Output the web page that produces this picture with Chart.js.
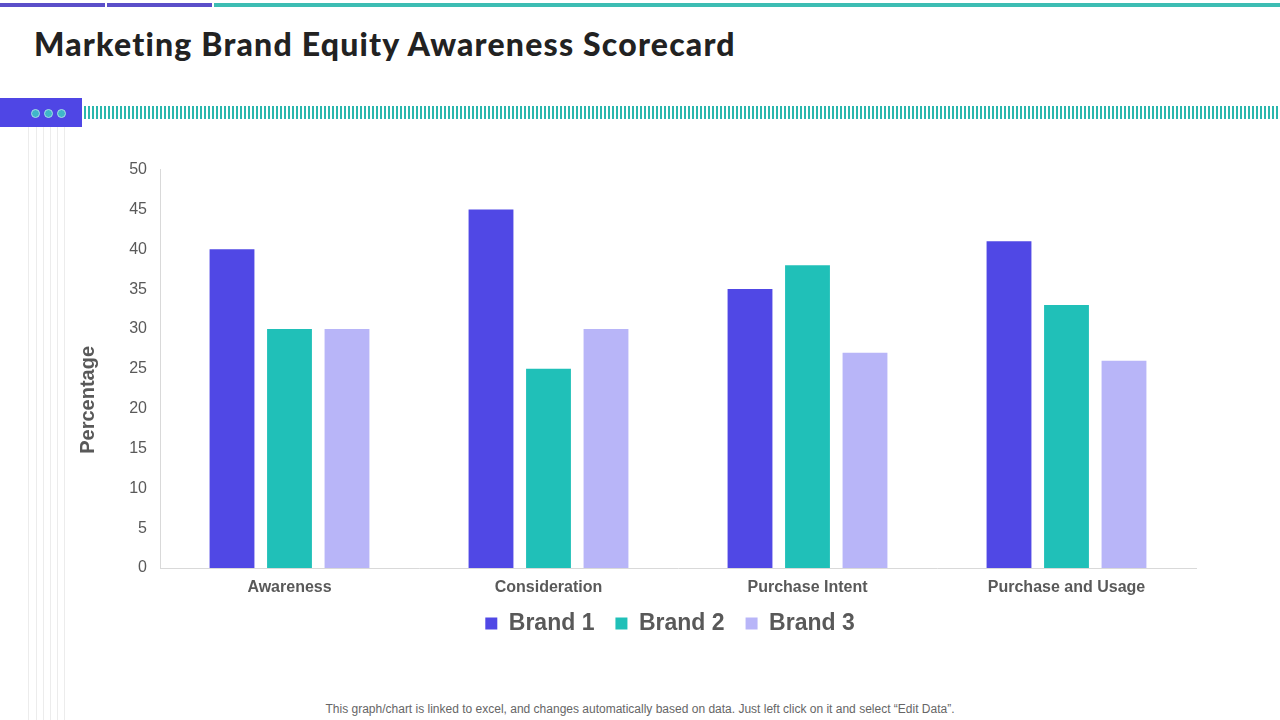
<!DOCTYPE html>
<html>
<head>
<meta charset="utf-8">
<script src="https://cdn.jsdelivr.net/npm/chart.js@4.4.1/dist/chart.umd.min.js"></script>
<style>
  html, body { margin: 0; padding: 0; background: #fff; }
  body { width: 1280px; height: 720px; position: relative; overflow: hidden; font-family: "Liberation Sans", Arial, sans-serif; }
  .bar { position: absolute; top: 3px; height: 4px; }
  h1 { position: absolute; left: 34px; top: 24px; margin: 0; font-family: "Lato", "Inter", sans-serif; font-weight: 900; font-size: 32px; color: #222; letter-spacing: 1.2px; }
  .block { position: absolute; left: 0; top: 98px; width: 82px; height: 29px; background: #4F46E5; }
  .dot { position: absolute; top: 109px; width: 7px; height: 7px; border-radius: 50%; background: #3fb7c9; border: 1px solid #a8dce8; }
  .stripes { position: absolute; left: 84px; top: 106px; width: 1196px; height: 13px;
    background: repeating-linear-gradient(90deg, #2bb7ad 0 2px, #ffffff 2px 4px); }
  .vline { position: absolute; top: 127px; width: 1px; height: 593px; background: #ececec; }
  #wrap { position: absolute; left: 78px; top: 147px; width: 1202px; height: 511px; }
  .note { position: absolute; left: 0; width: 1280px; top: 702px; text-align: center; font-size: 12px; color: #666; }
</style>
</head>
<body>
<div class="bar" style="left:0;width:105px;background:#5b4fc9"></div>
<div class="bar" style="left:107px;width:105px;background:#5b4fc9"></div>
<div class="bar" style="left:214px;width:1066px;background:#3dbdb3"></div>
<h1>Marketing Brand Equity Awareness Scorecard</h1>
<div class="block"></div>
<div class="dot" style="left:31px"></div>
<div class="dot" style="left:44px"></div>
<div class="dot" style="left:57px"></div>
<div class="stripes"></div>
<div class="vline" style="left:28px"></div>
<div class="vline" style="left:36px"></div>
<div class="vline" style="left:43px"></div>
<div class="vline" style="left:50px"></div>
<div class="vline" style="left:57px"></div>
<div class="vline" style="left:64px"></div>
<div id="wrap"><canvas id="chart"></canvas></div>
<div class="note">This graph/chart is linked to excel,  and changes automatically based on data. Just left click on it and select “Edit Data”.</div>
<script>
const categories = ['Awareness', 'Consideration', 'Purchase Intent', 'Purchase and Usage'];
const brand1 = [40, 45, 35, 41];
const brand2 = [30, 25, 38, 33];
const brand3 = [30, 30, 27, 26];
const yTicks = [0, 5, 10, 15, 20, 25, 30, 35, 40, 45, 50];
const yTitle = 'Percentage';

// put the legend under the plot area and a bit closer to the axis
const legendShift = {
    id: 'legendShift',
    afterLayout(chart) {
        const lg = chart.legend;
        const d = (chart.chartArea.left + chart.chartArea.right) / 2 - (lg.left + lg.right) / 2 - 8;
        lg.left += d;
        lg.right += d;
        lg.top -= 13;
        lg.bottom -= 13;
    }
};

// y title sits a bit below the middle in the original
const yTitlePlugin = {
    id: 'yTitlePlugin',
    afterDraw(chart) {
        const a = chart.chartArea;
        const c = chart.ctx;
        c.save();
        c.translate(a.left - 72, a.top + (a.bottom - a.top) * 0.578);
        c.rotate(-Math.PI / 2);
        c.fillStyle = '#595959';
        c.font = 'bold 20px "Liberation Sans"';
        c.textAlign = 'center';
        c.textBaseline = 'middle';
        c.fillText(yTitle, 0, 0);
        c.restore();
    }
};

const ctx = document.getElementById('chart').getContext('2d');
new Chart(ctx, {
    type: 'bar',
    data: {
        labels: categories,
        datasets: [
            { label: 'Brand 1', data: brand1, backgroundColor: '#5048E5' },
            { label: 'Brand 2', data: brand2, backgroundColor: '#20C0B8' },
            { label: 'Brand 3', data: brand3, backgroundColor: '#B8B5F8' }
        ]
    },
    plugins: [legendShift, yTitlePlugin],
    options: {
        responsive: true,
        maintainAspectRatio: false,
        animation: false,
        datasets: { bar: { categoryPercentage: 0.666, barPercentage: 0.78 } },
        layout: { padding: { top: 10, right: 84, left: 0, bottom: 0 } },
        plugins: {
            tooltip: { enabled: false },
            legend: {
                position: 'bottom',
                labels: {
                    color: '#595959',
                    font: { family: 'Liberation Sans', size: 23, weight: 'bold' },
                    boxWidth: 12, boxHeight: 12, padding: 21
                }
            }
        },
        scales: {
            x: {
                grid: { display: false, drawTicks: false },
                border: { color: '#d9d9d9' },
                ticks: { color: '#595959', padding: 10, font: { family: 'Liberation Sans', size: 16, weight: 'bold' } },
                afterFit: s => { s.height = 36; }
            },
            y: {
                min: 0, max: 50,
                afterBuildTicks: s => { s.ticks = yTicks.map(v => ({ value: v })); },
                grid: { display: false, drawTicks: false },
                border: { color: '#d9d9d9' },
                ticks: { color: '#595959', padding: 13, font: { family: 'Liberation Sans', size: 16 } },
                afterFit: s => { s.width = 82; }
            }
        }
    }
});
</script>
</body>
</html>
